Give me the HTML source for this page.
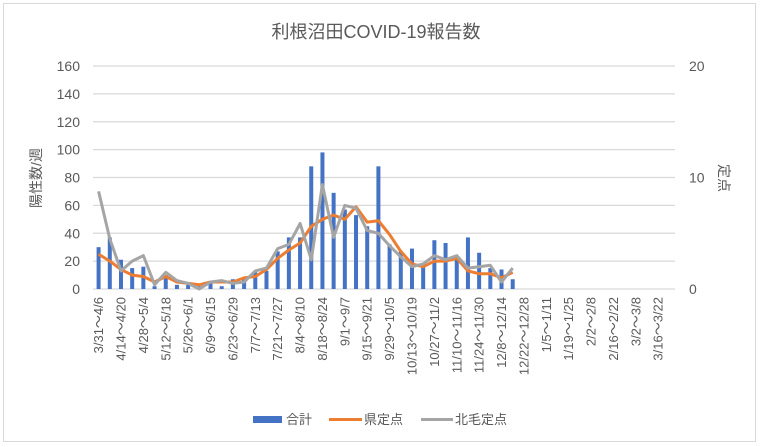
<!DOCTYPE html>
<html><head><meta charset="utf-8"><style>
html,body{margin:0;padding:0;background:#fff}
svg{display:block}
text{font-family:"Liberation Sans","Noto Sans CJK JP",sans-serif;fill:#595959}
</style></head><body>
<svg id="c" width="760" height="447" xmlns="http://www.w3.org/2000/svg">
<rect x="3.5" y="3.5" width="752" height="438" fill="#fff" stroke="#d9d9d9"/>
<text x="376" y="38" font-size="18" text-anchor="middle">利根沼田COVID-19報告数</text>
<text transform="translate(41,178) rotate(-90)" font-size="14" text-anchor="middle">陽性数/週</text>
<text transform="translate(719,178) rotate(90)" font-size="14" text-anchor="middle">定点</text>
<g id="g"></g>
<g id="lg">
<rect x="253" y="416" width="29" height="7" fill="#4472c4"/>
<text x="286" y="424" font-size="13">合計</text>
<line x1="329" y1="419.5" x2="362" y2="419.5" stroke="#ed7d31" stroke-width="3"/>
<text x="364" y="424" font-size="13">県定点</text>
<line x1="421" y1="419.5" x2="453" y2="419.5" stroke="#a5a5a5" stroke-width="3"/>
<text x="455" y="424" font-size="13">北毛定点</text>
</g>
</svg>
<script>
var g=document.getElementById('g'),h='';
var x0=93,x1=675,y0=289,yt=66,n=52,cw=(x1-x0)/n,k=(y0-yt)/160;
for(var v=0;v<=160;v+=20){var y=y0-v*k;h+='<line x1="'+x0+'" x2="'+x1+'" y1="'+y+'" y2="'+y+'" stroke="#d9d9d9" stroke-width="1.3"/>';
h+='<text x="80" y="'+(y+5)+'" font-size="14" text-anchor="end">'+v+'</text>';}
[0,10,20].forEach(function(v){var y=y0-v*8*k;h+='<text x="689" y="'+(y+5)+'" font-size="14">'+v+'</text>';});
var b=[30,37,21,15,16,2,10,3,3,2,5,2,7,7,12,13,27,37,37,88,98,69,57,53,45,88,32,27,29,18,35,33,22,37,26,15,14,7];
var o=[25,20,14,10,9,5,9,5,4,3,5,5,5,8,9,14,22,28,33,45,50,53,50,59,48,49,39,27,18,16,20,20,22,13,11,11,8,12];
var gr=[70,36,13,20,24,3,12,6,4,0,5,6,4,5,13,15,29,32,47,21,75,37,60,58,42,40,31,23,16,18,24,21,24,15,16,17,5,15];
function cx(i){return x0+cw*(i+0.5);}
b.forEach(function(v,i){h+='<rect x="'+(cx(i)-2)+'" y="'+(y0-v*k)+'" width="4" height="'+(v*k)+'" fill="#4472c4"/>';});
function pl(a,c){return '<polyline fill="none" stroke="'+c+'" stroke-width="3" stroke-linejoin="round" points="'+a.map(function(v,i){return cx(i).toFixed(1)+','+(y0-v*k).toFixed(1)}).join(' ')+'"/>';}
h+=pl(o,'#ed7d31')+pl(gr,'#a5a5a5');
for(var i=0;i<n;i+=2){var s=new Date(2022,2,31+i*7),e=new Date(2022,2,37+i*7);
var t=(s.getMonth()+1)+'/'+s.getDate()+'～'+(e.getMonth()+1)+'/'+e.getDate();
h+='<text transform="translate('+(cx(i)+4.5)+',297) rotate(-90)" font-size="13" text-anchor="end">'+t+'</text>';}
g.innerHTML=h;
</script>
</body></html>
